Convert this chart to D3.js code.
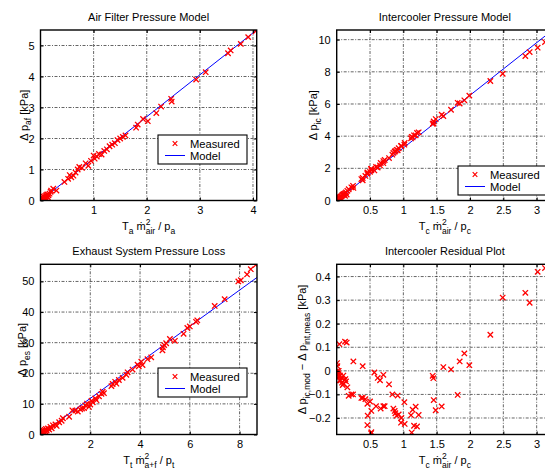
<!DOCTYPE html>
<html>
<head>
<meta charset="utf-8">
<script src="https://cdn.jsdelivr.net/npm/d3@7"></script>
<style>
  html, body { margin: 0; padding: 0; background: #fff; }
  svg { display: block; font-family: "Liberation Sans", Arial, Helvetica, sans-serif; }
</style>
</head>
<body>
<svg id="fig" width="545" height="470"></svg>
<script>
// ---- Air filter: measured pressure drop vs. T_a*mdot^2/p_a ----
const afX = [0.01,0.02,0.03,0.04,0.05,0.06,0.07,0.08,0.09,0.10,0.11,0.12,0.13,0.14,0.15,0.17,0.19,0.20,0.24,0.30,
  0.45,0.52,0.55,0.58,0.62,0.66,0.70,0.73,0.78,0.85,0.90,0.95,1.00,1.02,1.06,1.10,1.15,1.20,1.25,1.30,1.35,1.40,
  1.45,1.50,1.55,1.60,1.80,1.83,1.93,2.02,2.18,2.27,2.46,2.47,2.93,3.11,3.53,3.58,3.77,3.91,4.05];
const afY = [0.02,0.05,0.00,0.08,0.03,0.12,0.06,0.10,0.15,0.09,0.18,0.13,0.20,0.10,0.17,0.22,0.28,0.32,0.38,0.32,
  0.60,0.70,0.82,0.75,0.80,0.90,1.00,1.08,1.05,1.20,1.12,1.28,1.45,1.35,1.42,1.50,1.48,1.60,1.65,1.75,1.80,1.85,
  1.95,2.00,2.05,2.10,2.35,2.45,2.63,2.56,2.82,3.03,3.28,3.19,3.90,4.14,4.75,4.84,5.05,5.27,5.46];
const afModelX = [0, 4.07];
const afModelY = [0, 5.50];

// ---- Intercooler: measured pressure drop and model residual vs. T_c*mdot^2/p_c ----
const icX = [0.005,0.010,0.012,0.015,0.020,0.025,0.030,0.035,0.040,0.045,0.050,0.060,0.070,0.080,0.090,0.100,
  0.105,0.115,0.125,0.130,0.140,0.150,0.160,0.180,0.220,0.245,0.250,0.370,0.390,0.390,0.430,0.460,0.465,0.460,
  0.515,0.520,0.500,0.520,0.565,0.590,0.615,0.650,0.660,0.700,0.720,0.700,0.785,0.835,0.850,0.870,0.880,0.915,
  0.900,0.930,0.965,0.970,1.015,1.020,1.125,1.115,1.140,1.185,1.160,1.205,1.230,1.440,1.450,1.455,1.485,1.575,
  1.600,1.715,1.815,1.845,1.915,1.990,2.305,2.490,2.830,2.895,3.015,3.125];
const icY = [0.01,0.01,0.04,0.07,0.10,0.09,0.10,0.14,0.02,0.19,0.18,0.24,0.26,0.31,0.36,0.35,
  0.40,0.42,0.29,0.46,0.51,0.37,0.60,0.70,0.82,0.91,0.78,1.33,1.40,1.26,1.53,1.65,1.72,1.74,
  1.96,1.97,1.78,1.88,1.87,2.09,2.05,2.18,2.33,2.45,2.52,2.32,2.64,2.85,2.96,3.03,3.08,3.12,
  3.15,3.25,3.39,3.39,3.47,3.58,3.96,3.86,3.92,4.05,4.05,4.20,4.24,4.76,4.80,4.91,5.06,5.33,
  5.25,5.64,6.07,6.03,6.23,6.52,7.43,7.88,8.98,9.23,9.50,9.85];
const icResid = [0.033,0.020,0.000,-0.020,-0.030,-0.010,0.000,-0.025,0.113,-0.040,-0.020,-0.040,-0.030,-0.050,-0.060,-0.020,
  -0.055,-0.040,0.124,-0.035,-0.045,0.120,-0.070,-0.106,-0.100,-0.100,0.040,-0.115,-0.115,0.020,-0.120,-0.140,-0.190,-0.230,
  -0.265,-0.260,-0.130,-0.170,-0.007,-0.150,-0.030,-0.040,-0.160,-0.150,-0.150,-0.017,-0.057,-0.100,-0.160,-0.170,-0.180,-0.105,
  -0.190,-0.185,-0.220,-0.200,-0.133,-0.225,-0.262,-0.188,-0.165,-0.152,-0.233,-0.236,-0.187,-0.021,-0.031,-0.124,-0.167,-0.151,
  0.016,0.006,-0.102,0.040,0.074,0.024,0.153,0.311,0.331,0.289,0.420,0.436];
const icModelX = [0, 3.25];
const icModelY = [0, 10.63];

// ---- Exhaust system: measured pressure loss vs. T_t*mdot^2/p_t ----
const esX = [0.02,0.04,0.05,0.06,0.08,0.10,0.11,0.13,0.15,0.17,0.20,0.22,0.25,0.30,0.35,0.40,0.45,0.50,0.60,0.65,
  0.75,0.85,0.90,1.15,1.28,1.40,1.50,1.60,1.67,1.75,1.80,1.87,1.95,2.00,2.05,2.10,2.20,2.25,2.35,2.45,2.50,2.55,
  2.85,2.90,3.00,3.05,3.15,3.30,3.45,3.50,3.70,3.90,3.95,4.05,4.10,4.30,4.45,4.90,4.92,4.97,5.05,5.20,5.40,5.75,
  5.90,6.00,6.25,6.30,7.00,7.40,7.95,8.05,8.30,8.45,8.65];
const esY = [0.1,0.5,0.0,0.8,0.3,1.0,0.5,1.2,0.7,1.5,1.0,1.8,1.3,2.0,1.6,2.5,2.0,3.0,3.3,2.8,
  4.0,4.5,5.3,5.8,7.9,7.8,7.5,8.2,8.5,8.6,9.5,10.1,9.0,9.8,11.0,10.5,11.8,11.2,12.5,13.3,14.0,13.5,
  15.8,16.5,17.2,16.6,17.8,18.5,19.5,20.3,21.2,22.8,22.3,23.8,22.7,24.6,25.2,27.5,28.5,29.2,29.8,31.2,30.6,32.9,
  34.8,35.3,36.8,37.3,42.0,44.2,50.0,50.4,52.3,54.0,55.4];
const esModelX = [0, 8.7];
const esModelY = [0, 51.3];

// ---- Tick values and their labels ----
const afXTicks = [1, 2, 3, 4],            afXTickLabels = ["1", "2", "3", "4"];
const afYTicks = [0, 1, 2, 3, 4, 5],      afYTickLabels = ["0", "1", "2", "3", "4", "5"];
const icXTicks = [0.5, 1, 1.5, 2, 2.5, 3], icXTickLabels = ["0.5", "1", "1.5", "2", "2.5", "3"];
const icYTicks = [0, 2, 4, 6, 8, 10],     icYTickLabels = ["0", "2", "4", "6", "8", "10"];
const esXTicks = [2, 4, 6, 8],            esXTickLabels = ["2", "4", "6", "8"];
const esYTicks = [0, 10, 20, 30, 40, 50], esYTickLabels = ["0", "10", "20", "30", "40", "50"];
const rsYTicks = [-0.2, -0.1, 0, 0.1, 0.2, 0.3, 0.4];
const rsYTickLabels = ["\u22120.2", "\u22120.1", "0", "0.1", "0.2", "0.3", "0.4"];

const legendLabels = ["Measured", "Model"];

const svg = d3.select("#fig");
svg.append("rect").attr("width", 545).attr("height", 470).attr("fill", "#fff");

const MEASURED_COLOR = "#ff0000";
const MODEL_COLOR = "#0000ff";

// Rich text made of runs: n = normal, sub = subscript, sup = superscript,
// subx = subscript stacked under the preceding superscript.
function richText(sel, runs) {
  let shift = 0;
  runs.forEach(([txt, kind, back]) => {
    let target = 0, size = 11;
    if (kind === "sub" || kind === "subx") { target = 3.5; size = 8.5; }
    if (kind === "sup") { target = -5; size = 8.5; }
    const t = sel.append("tspan").text(txt).attr("font-size", size).attr("dy", target - shift);
    if (kind === "subx") t.attr("dx", -(back || 5));
    shift = target;
  });
}

function xMark(g, cx, cy, s, w) {
  g.append("path")
    .attr("d", `M${cx - s},${cy - s}L${cx + s},${cy + s}M${cx - s},${cy + s}L${cx + s},${cy - s}`)
    .attr("stroke", MEASURED_COLOR).attr("stroke-width", w || 1.3).attr("fill", "none");
}

let clipId = 0;
function panel(cfg) {
  const { left, top, right, bottom } = cfg.frame;
  const x = d3.scaleLinear().domain(cfg.xDomain).range([left, right]);
  const y = d3.scaleLinear().domain(cfg.yDomain).range([bottom, top]);
  const g = svg.append("g");

  // dash-dot grid
  const grid = g.append("g").attr("stroke", "#111").attr("stroke-width", 0.65)
    .attr("stroke-dasharray", "3,1.5,1,1.5");
  cfg.xTicks.forEach(v => grid.append("line").attr("x1", x(v)).attr("x2", x(v)).attr("y1", top).attr("y2", bottom));
  cfg.yTicks.forEach(v => grid.append("line").attr("x1", left).attr("x2", right).attr("y1", y(v)).attr("y2", y(v)));

  const id = "clip" + (clipId++);
  svg.append("clipPath").attr("id", id).append("rect")
    .attr("x", left).attr("y", top).attr("width", right - left).attr("height", bottom - top);
  const data = g.append("g").attr("clip-path", `url(#${id})`);

  if (cfg.model) {
    const pts = cfg.model.x.map((v, i) => [v, cfg.model.y[i]]);
    data.append("path").attr("d", d3.line().x(d => x(d[0])).y(d => y(d[1]))(pts))
      .attr("stroke", MODEL_COLOR).attr("stroke-width", 1).attr("fill", "none");
  }
  cfg.xs.forEach((v, i) => xMark(data, x(v), y(cfg.ys[i]), 2.7));

  // axes with inward ticks
  const fmt = (vals, labels) => v => labels[vals.indexOf(v)];
  const ax = g.append("g").attr("transform", `translate(0,${bottom})`)
    .call(d3.axisBottom(x).tickValues(cfg.xTicks).tickFormat(fmt(cfg.xTicks, cfg.xTickLabels)).tickSize(-3).tickPadding(6));
  const ay = g.append("g").attr("transform", `translate(${left},0)`)
    .call(d3.axisLeft(y).tickValues(cfg.yTicks).tickFormat(fmt(cfg.yTicks, cfg.yTickLabels)).tickSize(-3).tickPadding(6));
  const at = g.append("g").attr("transform", `translate(0,${top})`)
    .call(d3.axisTop(x).tickValues(cfg.xTicks).tickFormat("").tickSize(-3));
  const ar = g.append("g").attr("transform", `translate(${right},0)`)
    .call(d3.axisRight(y).tickValues(cfg.yTicks).tickFormat("").tickSize(-3));
  [ax, ay, at, ar].forEach(a => {
    a.select(".domain").remove();
    a.selectAll("text").attr("font-size", 11).attr("fill", "#000")
      .attr("font-family", '"Liberation Sans", Arial, sans-serif');
    a.selectAll("line").attr("stroke", "#000");
  });

  g.append("rect").attr("x", left).attr("y", top).attr("width", right - left).attr("height", bottom - top)
    .attr("fill", "none").attr("stroke", "#000").attr("stroke-width", 1.4);

  // title
  g.append("text").attr("x", (left + right) / 2).attr("y", top - 9).attr("text-anchor", "middle")
    .attr("font-size", 11).text(cfg.title);

  // x label
  const xl = g.append("text").attr("x", (left + right) / 2).attr("y", bottom + 29.5).attr("text-anchor", "middle");
  richText(xl, cfg.xLabel);

  // y label (rotated)
  const yl = g.append("text")
    .attr("transform", `translate(${cfg.yLabelX},${(top + bottom) / 2}) rotate(-90)`)
    .attr("text-anchor", "middle");
  richText(yl, cfg.yLabel);

  // legend
  if (cfg.legend) {
    const L = cfg.legend;
    const lg = g.append("g").attr("transform", `translate(${L.x},${L.y})`);
    lg.append("rect").attr("width", 89).attr("height", 29).attr("fill", "#fff")
      .attr("stroke", "#000").attr("stroke-width", 1.1);
    xMark(lg, 17, 8.5, 2.3, 1.2);
    lg.append("line").attr("x1", 7).attr("x2", 27).attr("y1", 20.5).attr("y2", 20.5)
      .attr("stroke", MODEL_COLOR).attr("stroke-width", 1);
    lg.append("text").attr("x", 32).attr("y", 12.5).attr("font-size", 11.2).text(legendLabels[0]);
    lg.append("text").attr("x", 32).attr("y", 24.5).attr("font-size", 11.2).text(legendLabels[1]);
  }
}

const mdot = "\u1E41";

panel({
  frame: { left: 40.5, top: 30, right: 256.7, bottom: 200.5 },
  xDomain: [0, 4.07], yDomain: [0, 5.5],
  xTicks: afXTicks, xTickLabels: afXTickLabels, yTicks: afYTicks, yTickLabels: afYTickLabels,
  xs: afX, ys: afY, model: { x: afModelX, y: afModelY },
  title: "Air Filter Pressure Model",
  xLabel: [["T", "n"], ["a", "sub"], [" " + mdot, "n"], ["2", "sup"], ["air", "subx", 4.8], [" / p", "n"], ["a", "sub"]],
  yLabel: [["\u0394 p", "n"], ["af", "sub"], [" [kPa]", "n"]],
  yLabelX: 27.5,
  legend: { x: 158, y: 135 }
});

panel({
  frame: { left: 336.7, top: 30, right: 553, bottom: 200.5 },
  xDomain: [0, 3.245], yDomain: [0, 10.6],
  xTicks: icXTicks, xTickLabels: icXTickLabels, yTicks: icYTicks, yTickLabels: icYTickLabels,
  xs: icX, ys: icY, model: { x: icModelX, y: icModelY },
  title: "Intercooler Pressure Model",
  xLabel: [["T", "n"], ["c", "sub"], [" " + mdot, "n"], ["2", "sup"], ["air", "subx", 4.8], [" / p", "n"], ["c", "sub"]],
  yLabel: [["\u0394 p", "n"], ["ic", "sub"], [" [kPa]", "n"]],
  yLabelX: 317,
  legend: { x: 458, y: 166 }
});

panel({
  frame: { left: 40.5, top: 264.3, right: 257, bottom: 434.5 },
  xDomain: [0, 8.7], yDomain: [0, 55.6],
  xTicks: esXTicks, xTickLabels: esXTickLabels, yTicks: esYTicks, yTickLabels: esYTickLabels,
  xs: esX, ys: esY, model: { x: esModelX, y: esModelY },
  title: "Exhaust System Pressure Loss",
  xLabel: [["T", "n"], ["t", "sub"], [" " + mdot, "n"], ["2", "sup"], ["a+f", "subx", 4.8], [" / p", "n"], ["t", "sub"]],
  yLabel: [["\u0394 p", "n"], ["es", "sub"], [" [kPa]", "n"]],
  yLabelX: 26,
  legend: { x: 158, y: 368 }
});

panel({
  frame: { left: 336.7, top: 264.3, right: 553, bottom: 434.5 },
  xDomain: [0, 3.245], yDomain: [-0.27, 0.452],
  xTicks: icXTicks, xTickLabels: icXTickLabels, yTicks: rsYTicks, yTickLabels: rsYTickLabels,
  xs: icX, ys: icResid, model: null,
  title: "Intercooler Residual Plot",
  xLabel: [["T", "n"], ["c", "sub"], [" " + mdot, "n"], ["2", "sup"], ["air", "subx", 4.8], [" / p", "n"], ["c", "sub"]],
  yLabel: [["\u0394 p", "n"], ["ic,mod", "sub"], [" \u2212 \u0394 p", "n"], ["int,meas", "sub"], [" [kPa]", "n"]],
  yLabelX: 306,
  legend: null
});
</script>
</body>
</html>
